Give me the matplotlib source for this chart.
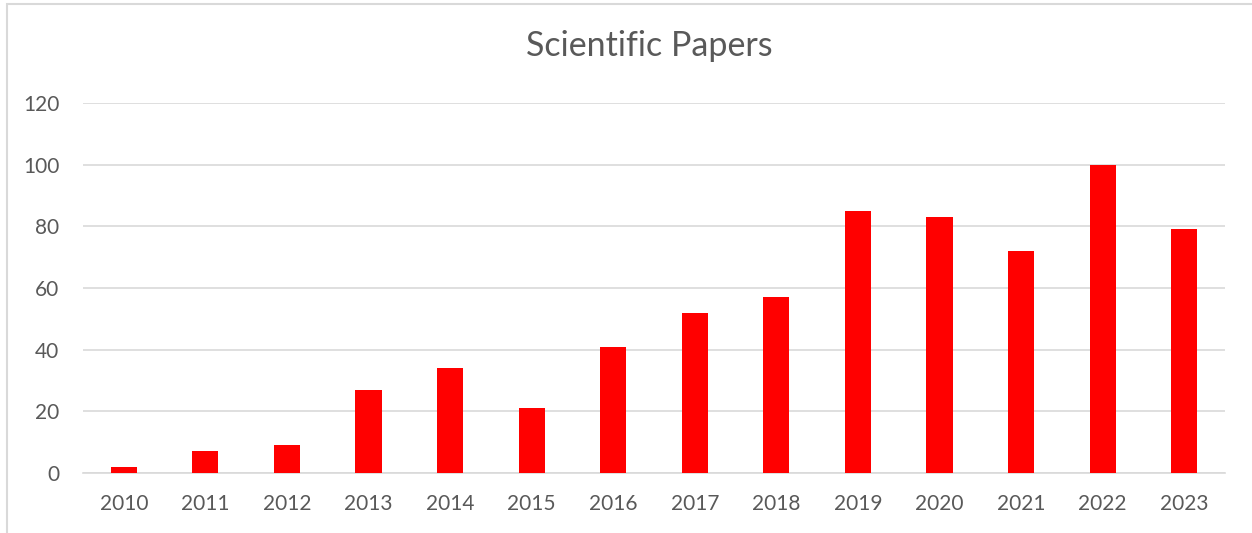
import matplotlib
matplotlib.use("Agg")
import matplotlib.pyplot as plt
from matplotlib.patches import Rectangle

years = ["2010", "2011", "2012", "2013", "2014", "2015", "2016",
         "2017", "2018", "2019", "2020", "2021", "2022", "2023"]
papers = [2, 7, 9, 27, 34, 21, 41, 52, 57, 85, 83, 72, 100, 79]
yticks = [0, 20, 40, 60, 80, 100, 120]

plt.rcParams['font.family'] = ['Lato', 'DejaVu Sans']

W, H = 1252, 533
fig = plt.figure(figsize=(W / 100, H / 100), dpi=100)
fig.patch.set_facecolor('white')

# chart border (top and left visible)
fig.add_artist(Rectangle((7 / W, -0.05), 1.0, (H - 4) / H + 0.05,
                         transform=fig.transFigure, fill=False,
                         edgecolor='#d9d9d9', linewidth=1.5))

ax = fig.add_axes([83 / W, (H - 473) / H, (1225 - 83) / W, (473 - 103) / H])
x = range(len(years))
ax.bar(x, papers, width=0.32, color='#ff0000', zorder=3)
ax.set_xlim(-0.5, len(years) - 0.5)
ax.set_ylim(0, 120)
ax.set_yticks(yticks)
ax.set_xticks(list(x))
ax.set_xticklabels(years)
ax.grid(axis='y', color='#d9d9d9', linewidth=1.2, zorder=0)
for s in ['top', 'right', 'left']:
    ax.spines[s].set_visible(False)
ax.spines['bottom'].set_color('#d9d9d9')
ax.spines['bottom'].set_linewidth(1.2)
ax.tick_params(axis='both', length=0, labelsize=15, colors='#595959')
ax.tick_params(axis='x', pad=15)
ax.tick_params(axis='y', pad=17)

fig.text(0.519, (H - 56) / H, "Scientific Papers", ha='center', va='baseline',
         fontsize=24.5, color='#595959')

fig.savefig("out.png", dpi=100)
